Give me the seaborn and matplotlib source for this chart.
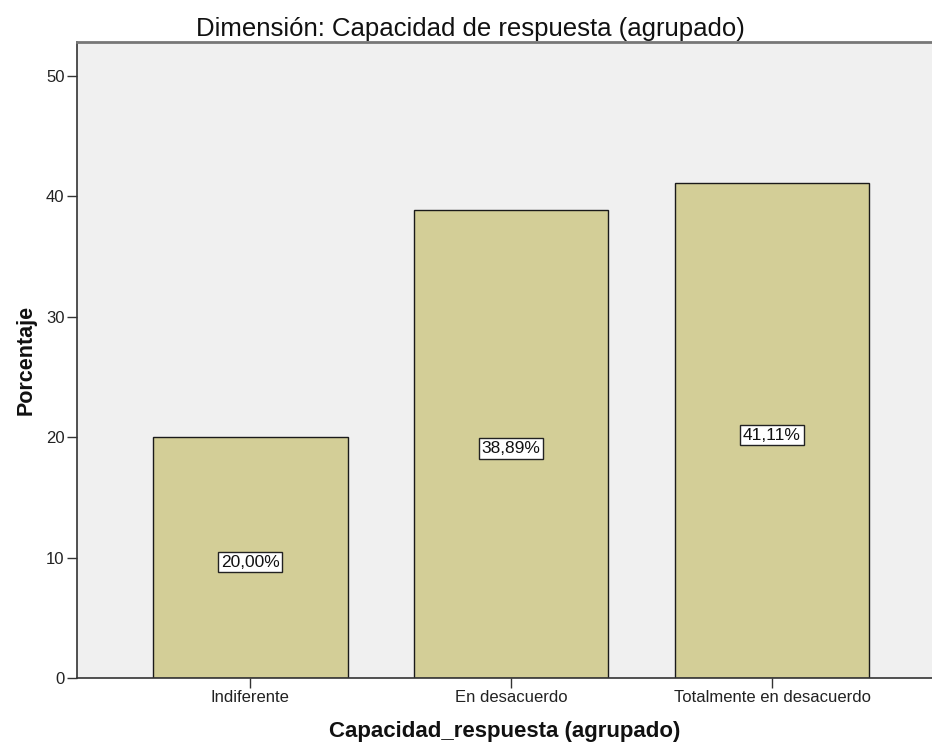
import matplotlib
matplotlib.use("Agg")
import matplotlib.pyplot as plt
import seaborn as sns
import pandas as pd

categories = ["Indiferente", "En desacuerdo", "Totalmente en desacuerdo"]
percentages = [20.00, 38.89, 41.11]
yticks = [0, 10, 20, 30, 40, 50]

sns.set_theme(style="white")
plt.rcParams["font.family"] = ["Liberation Sans", "DejaVu Sans"]

df = pd.DataFrame({"cat": categories, "pct": percentages})

fig = plt.figure(figsize=(9.32, 7.47), dpi=100)
ax = fig.add_axes([0.0826, 0.0924, 0.9174, 0.8514])
ax.set_facecolor("#F0F0F0")

sns.barplot(data=df, x="cat", y="pct", order=categories, color="#D3CE97",
            saturation=1, width=0.747, edgecolor="#1a1a1a", linewidth=1.0, ax=ax)

for i, v in enumerate(percentages):
    ax.text(i, v / 2 - 0.4, f"{v:.2f}%".replace(".", ","), ha="center", va="center",
            fontsize=12.5, color="#111111",
            bbox=dict(boxstyle="square,pad=0.15", facecolor="white",
                      edgecolor="#222222", linewidth=1.0))

ax.set_xlim(-0.663, 2.613)
ax.set_ylim(0, 52.8)
ax.set_yticks(yticks)
ax.set_yticklabels([str(t) for t in yticks])

for side in ["left", "bottom", "top"]:
    ax.spines[side].set_visible(True)
    ax.spines[side].set_color("#333333")
    ax.spines[side].set_linewidth(1.2)
ax.spines["right"].set_visible(False)
ax.spines["top"].set_color("#777777")
ax.spines["top"].set_linewidth(2.0)

ax.tick_params(axis="both", which="both", direction="out", length=7, width=1,
               color="#333333", labelsize=12, labelcolor="#222222", pad=2,
               left=True, bottom=True)

ax.set_xlabel("Capacidad_respuesta (agrupado)", fontsize=16, fontweight="bold",
              labelpad=11, color="#111111")
ax.set_ylabel("Porcentaje", fontsize=15.5, fontweight="bold", labelpad=7,
              color="#111111")
ax.set_title("Dimensión: Capacidad de respuesta (agrupado)", fontsize=18.5,
             color="#111111", pad=4, x=(470 - 77) / (0.9174 * 932))

fig.savefig("out.png", dpi=100, facecolor="white")
